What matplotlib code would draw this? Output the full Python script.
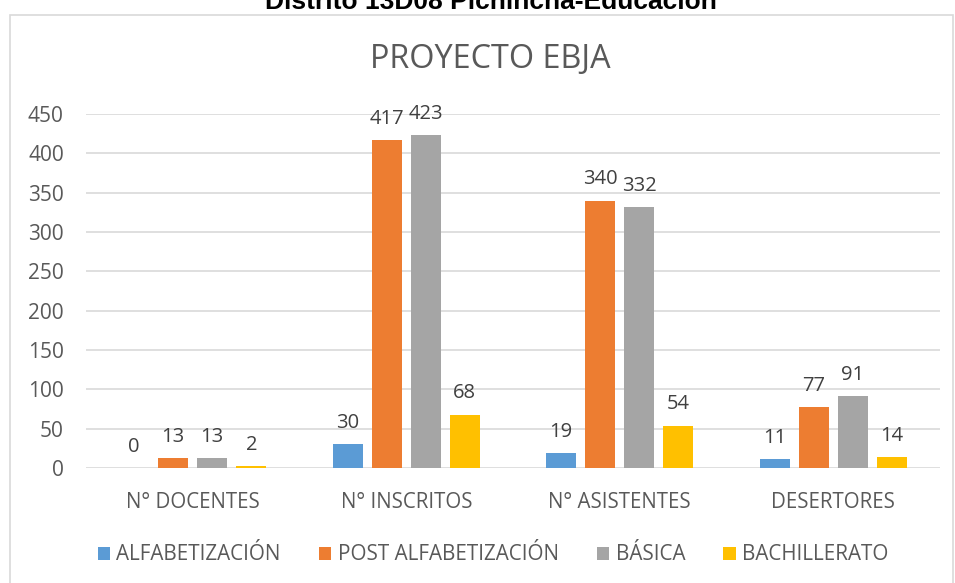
import matplotlib
matplotlib.use("Agg")
import matplotlib.pyplot as plt
from matplotlib.patches import Rectangle
import numpy as np

categories = ["N° DOCENTES", "N° INSCRITOS", "N° ASISTENTES", "DESERTORES"]
series_names = ["ALFABETIZACIÓN", "POST ALFABETIZACIÓN", "BÁSICA", "BACHILLERATO"]
alfabetizacion = [0, 30, 19, 11]
post_alfabetizacion = [13, 417, 340, 77]
basica = [13, 423, 332, 91]
bachillerato = [2, 68, 54, 14]
colors = ["#5b9bd5", "#ed7d31", "#a5a5a5", "#ffc000"]
yticks = [0, 50, 100, 150, 200, 250, 300, 350, 400, 450]

plt.rcParams['font.family'] = ['Open Sans', 'DejaVu Sans']

W, H = 955, 583
fig = plt.figure(figsize=(W / 100, H / 100), dpi=100)
fig.patch.set_facecolor("white")

# chart box
fig.patches.append(Rectangle((10 / W, -0.05), 943 / W, 1.05 - 15 / H,
                             transform=fig.transFigure, facecolor="white",
                             edgecolor="#d9d9d9", linewidth=1.2, zorder=-5))

fig.text(491 / W, 1 - 9 / H, "Distrito 13D08 Pichincha-Educación",
         ha="center", va="baseline", fontsize=19, fontweight="bold",
         family=["Liberation Sans", "DejaVu Sans"], color="#000000")

ax = fig.add_axes([86 / W, 1 - 468 / H, (940 - 86) / W, (468 - 114) / H])
ax.set_facecolor("none")
ax.set_ylim(0, 450)
ax.set_xlim(-0.5, 3.5)
ax.set_yticks(yticks)
ax.tick_params(axis="y", length=0, labelsize=15, labelcolor="#595959", pad=16)
ax.tick_params(axis="x", length=0, labelsize=14.8, labelcolor="#595959", pad=17)
ax.yaxis.grid(True, color="#d9d9d9", linewidth=1.2)
ax.set_axisbelow(True)
for s in ax.spines.values():
    s.set_visible(False)

x = np.arange(len(categories))
width = 0.14
step = 0.183
all_series = [alfabetizacion, post_alfabetizacion, basica, bachillerato]
for i, (vals, name, c) in enumerate(zip(all_series, series_names, colors)):
    pos = x + (i - 1.5) * step
    ax.bar(pos, vals, width, color=c, label=name, zorder=2)
    for p, v in zip(pos, vals):
        ax.annotate(str(v), (p, v), xytext=(0, 8), textcoords="offset points",
                    ha="center", va="bottom", fontsize=14.5, color="#404040")

ax.set_xticks(x)
ax.set_xticklabels(categories)

fig.text(490 / W, 1 - 59.5 / H, "PROYECTO EBJA", ha="center", va="center",
         fontsize=23.3, color="#595959")

leg = fig.legend(loc="center", bbox_to_anchor=(493 / W, 1 - 555 / H), ncol=4,
                 frameon=False, fontsize=14.9, handlelength=0.6, handleheight=0.6,
                 handletextpad=0.3, columnspacing=1.85)
for t in leg.get_texts():
    t.set_color("#595959")

fig.savefig("out.png", dpi=100)
